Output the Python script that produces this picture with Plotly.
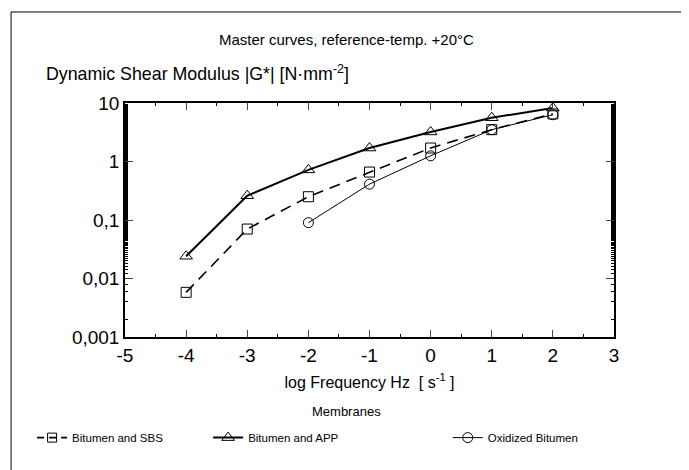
import plotly.graph_objects as go

log_freq = [-4, -3, -2, -1, 0, 1, 2]
sbs = [0.0058, 0.07, 0.25, 0.66, 1.7, 3.5, 6.5]
app = [0.024, 0.26, 0.72, 1.7, 3.2, 5.6, 8.2]
ox_freq = [-2, -1, 0, 1, 2]
oxidized = [0.09, 0.41, 1.25, 3.5, 6.3]

y_tickvals = [0.001, 0.01, 0.1, 1, 10]
y_ticktext = ["0,001", "0,01", "0,1", "1", "10"]
x_tickvals = [-5, -4, -3, -2, -1, 0, 1, 2, 3]
x_ticktext = ["-5", "-4", "-3", "-2", "-1", "0", "1", "2", "3"]

FONT = "Liberation Sans, Arial, sans-serif"

fig = go.Figure()
fig.add_trace(go.Scatter(
    x=log_freq, y=sbs, name="Bitumen and SBS", mode="lines+markers", showlegend=False,
    line=dict(color="black", width=1.6, dash="11px,7px"),
    marker=dict(symbol="square-open", size=10, color="black", line=dict(width=1))))
# legend entry for SBS with a shorter dash so the pattern shows in the small sample
fig.add_trace(go.Scatter(
    x=[None], y=[None], name="Bitumen and SBS", mode="lines+markers", legend="legend",
    line=dict(color="black", width=1.6, dash="7px,5px"),
    marker=dict(symbol="square-open", size=9, color="black", line=dict(width=1))))
fig.add_trace(go.Scatter(
    x=log_freq, y=app, name="Bitumen and APP", mode="lines+markers", legend="legend2",
    line=dict(color="black", width=2),
    marker=dict(symbol="triangle-up-open", size=11, color="black", line=dict(width=1))))
fig.add_trace(go.Scatter(
    x=ox_freq, y=oxidized, name="Oxidized Bitumen", mode="lines+markers", legend="legend3",
    line=dict(color="black", width=1),
    marker=dict(symbol="circle-open", size=10, color="black", line=dict(width=1))))

leg_common = dict(orientation="h", yanchor="middle", y=-0.43, xanchor="left",
                  font=dict(size=11.5, family=FONT), bgcolor="rgba(0,0,0,0)")

fig.update_layout(
    width=681, height=462,
    margin=dict(l=117, r=75, t=95, b=133),
    paper_bgcolor="white", plot_bgcolor="white",
    font=dict(family=FONT, color="black", size=14),
    showlegend=True,
    legend=dict(x=-0.19, **leg_common),
    legend2=dict(x=0.17, **leg_common),
    legend3=dict(x=0.66, **leg_common),
    xaxis=dict(range=[-5, 3], tickvals=x_tickvals, ticktext=x_ticktext, ticks="inside", ticklen=7,
               showline=True, linecolor="black", linewidth=1.5, mirror="allticks",
               showgrid=False, zeroline=False, tickfont=dict(size=19),
               title=dict(text="log Frequency Hz  [ s<sup>-1</sup> ]", font=dict(size=16), standoff=12),
               minor=dict(dtick=0.5, ticks="inside", ticklen=3, tickcolor="black")),
    yaxis=dict(type="log", range=[-3, 1], tickvals=y_tickvals, ticktext=y_ticktext,
               ticks="inside", ticklen=8, showline=True, linecolor="black", linewidth=1.5,
               mirror="allticks", showgrid=False, zeroline=False, tickfont=dict(size=19),
               minor=dict(ticks="inside", ticklen=3, tickcolor="black", tickwidth=0.7, showgrid=False)),
    annotations=[
        dict(text="Master curves, reference-temp. +20°C", xref="paper", yref="paper",
             x=0.452, y=1.272, xanchor="center", yanchor="middle", showarrow=False,
             font=dict(size=15)),
        dict(text="Dynamic Shear Modulus |G*| [N·mm<sup>-2</sup>]", xref="paper", yref="paper",
             x=-0.165, y=1.13, xanchor="left", yanchor="middle", showarrow=False,
             font=dict(size=17.8)),
        dict(text="Membranes", xref="paper", yref="paper",
             x=0.452, y=-0.32, xanchor="center", yanchor="middle", showarrow=False,
             font=dict(size=13)),
    ],
    shapes=[
        dict(type="line", xref="paper", yref="paper", x0=-0.233, x1=1.17, y0=1.389, y1=1.389,
             line=dict(color="black", width=1)),
        dict(type="line", xref="paper", yref="paper", x0=-0.233, x1=-0.233, y0=1.389, y1=-0.58,
             line=dict(color="black", width=1)),
    ],
)

fig.write_html("out.html")
